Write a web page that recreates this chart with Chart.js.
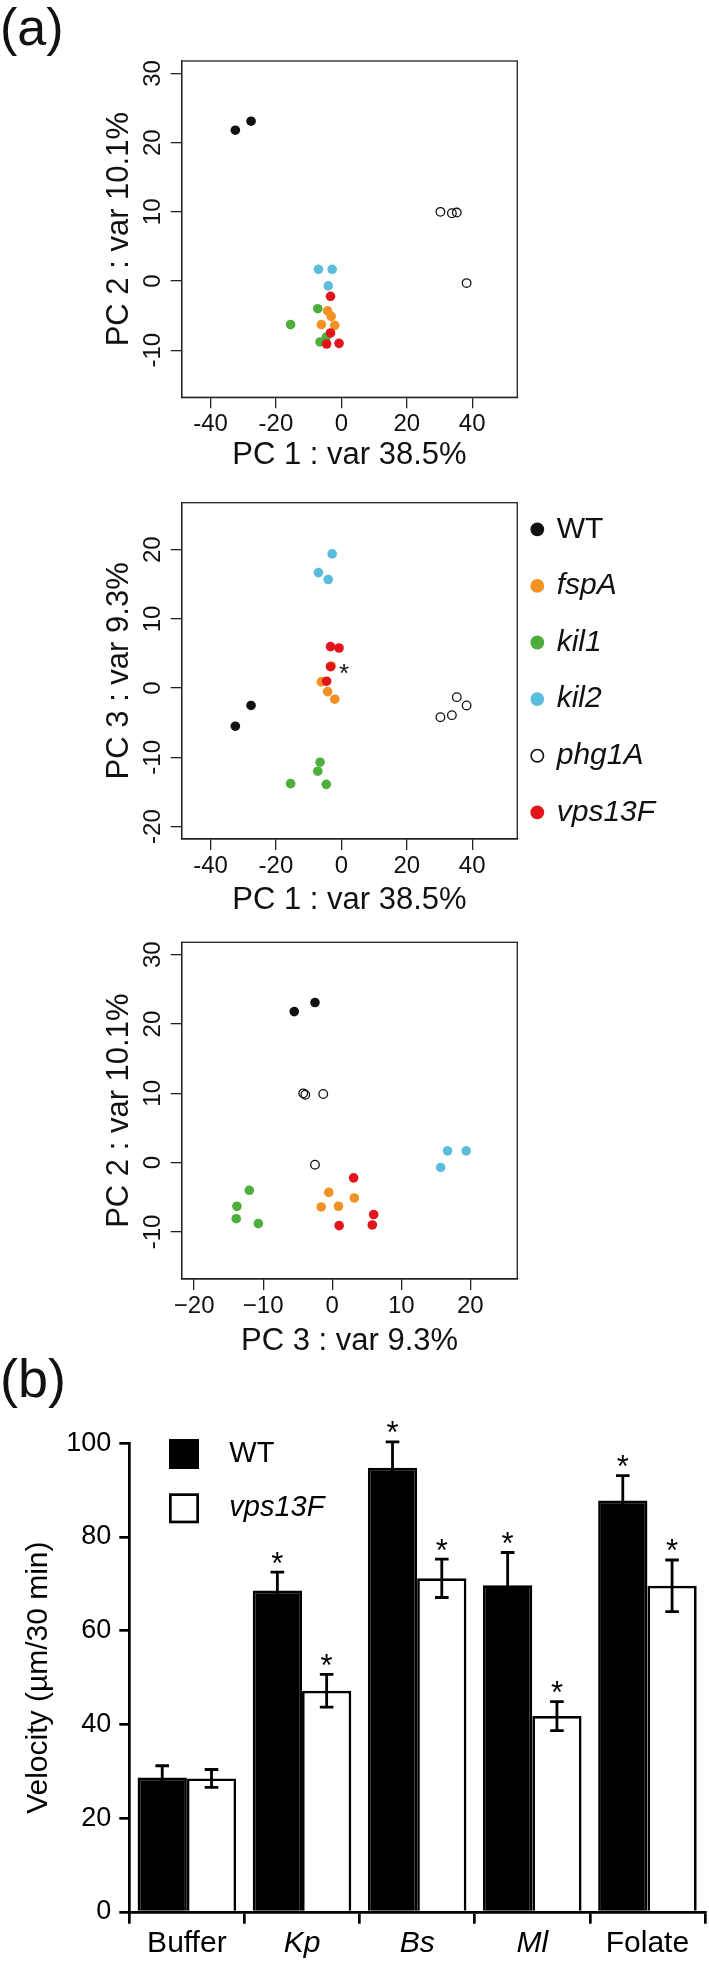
<!DOCTYPE html>
<html>
<head>
<meta charset="utf-8">
<script src="https://cdn.jsdelivr.net/npm/chart.js@4.4.1/dist/chart.umd.min.js"></script>
<style>
  body { margin: 0; background: #fff; }
  #page { position: relative; width: 709px; height: 1963px; overflow: hidden; background: #fff;
          font-family: 'Liberation Sans', Arial, sans-serif; color: #111; }
  canvas { position: absolute; left: 0; }
  .tag { position: absolute; left: 0; line-height: 1; }
</style>
</head>
<body>
<div id="page">
  <canvas id="pca12" width="709" height="480" style="top:0px"></canvas>
  <canvas id="pca13" width="709" height="445" style="top:480px"></canvas>
  <canvas id="pca32" width="709" height="445" style="top:925px"></canvas>
  <canvas id="velocity" width="709" height="593" style="top:1370px"></canvas>
  <div class="tag" style="top:1px; font-size:52px">(a)</div>
  <div class="tag" style="top:1351px; font-size:54px">(b)</div>
</div>
<script>
// PCA scores, one entry per sample
var sampleGroup = ['WT','WT','fspA','fspA','fspA','fspA','kil1','kil1','kil1','kil1',
                   'kil2','kil2','kil2','phg1A','phg1A','phg1A','phg1A','vps13F','vps13F','vps13F','vps13F'];
var pc1 = [-32.4,-27.6, -4.2,-3.1,-6.1,-2.0, -7.2,-15.5,-6.5,-4.6, -7.0,-2.8,-4.0, 30.3,33.8,35.3,38.3, -3.3,-3.3,-4.5,-0.7];
var pc2 = [21.8,23.1, -4.3,-5.1,-6.3,-6.4, -4.0,-6.3,-8.8,-8.1, 1.7,1.7,-0.7, 10.0,9.8,9.9,-0.3, -2.2,-7.5,-9.1,-9.0];
var pc3 = [-5.5,-2.5, -0.5,3.2,0.9,-1.6, -12.0,-13.8,-10.7,-13.9, 16.7,19.4,15.7, -4.2,-3.9,-1.3,-2.5, 3.1,6.0,1.0,5.8];
var starredSample = 17;   // marked with * in the PC1/PC3 plot

var groups = ['WT','fspA','kil1','kil2','phg1A','vps13F'];
var groupColors = ['#111111','#F39223','#4DAE3B','#5BBDDC','#111111','#E3141C'];
var openGroups = ['phg1A'];

var pc1Ticks = [-40,-20,0,20,40];
var pc2Ticks = [-10,0,10,20,30];
var pc3Ticks = [-20,-10,0,10,20];
var pc1Lim = [-48.8, 53.8];
var pc2Lim = [-16.8, 31.8];
var pc3Lim = [-21.8, 26.8];

// chemotaxis velocities (mean, sem)
var stimuli = ['Buffer','Kp','Bs','Ml','Folate'];
var italicStimuli = [false,true,true,true,false];
var wtVelocity = [28.7,68.6,94.8,69.7,87.8];
var wtSem = [2.5,3.9,5.5,7.0,5.3];
var vpsVelocity = [28.5,47.2,71.2,41.8,69.6];
var vpsSem = [1.9,3.5,4.1,3.1,5.5];
var wtStar = [false,true,true,true,true];
var vpsStar = [false,true,true,true,true];
var velocityTicks = [0,20,40,60,80,100];

var FONT = "'Liberation Sans', Arial, sans-serif";
var INK = '#111';

function plain(v) { return String(v); }
function minus(v) { return v < 0 ? '\u2212' + (-v) : String(v); }

var boxPlugin = {
  id: 'box',
  afterDraw: function (chart) {
    var a = chart.chartArea, ctx = chart.ctx;
    ctx.save();
    ctx.strokeStyle = '#222';
    ctx.lineWidth = 1.3;
    ctx.strokeRect(a.left, a.top, a.right - a.left, a.bottom - a.top);
    ctx.restore();
  }
};

function pcaChart(id, xs, ys, xTicks, yTicks, xLim, yLim, xTitle, yTitle, geo, xFmt, plugins) {
  var canvas = document.getElementById(id);
  var H = canvas.height;
  var datasets = groups.map(function (g, gi) {
    var open = openGroups.indexOf(g) >= 0;
    var pts = [];
    sampleGroup.forEach(function (s, i) {
      if (s === g) pts.push({ x: xs[i], y: ys[i] });
    });
    return {
      label: g,
      data: pts,
      order: groups.length - gi,
      pointRadius: open ? 4.3 : 4.8,
      pointBackgroundColor: open ? 'rgba(0,0,0,0)' : groupColors[gi],
      pointBorderColor: groupColors[gi],
      pointBorderWidth: open ? 1.3 : 0
    };
  });
  var gridOpts = { drawOnChartArea: false, drawTicks: true, tickLength: 11, color: '#222', lineWidth: 1.3 };
  var borderOpts = { display: true, color: '#222', width: 1.3 };
  return new Chart(canvas, {
    type: 'scatter',
    data: { datasets: datasets },
    options: {
      responsive: false,
      animation: false,
      events: [],
      layout: { padding: { top: geo.top, left: 0, right: 709 - 517.3, bottom: 0 } },
      plugins: { legend: { display: false }, tooltip: { enabled: false } },
      scales: {
        x: {
          type: 'linear', min: xLim[0], max: xLim[1],
          afterBuildTicks: function (s) { s.ticks = xTicks.map(function (v) { return { value: v }; }); },
          afterFit: function (s) { s.height = H - geo.bottom; },
          ticks: { font: { family: FONT, size: 24 }, color: INK, padding: 2, maxRotation: 0, autoSkip: false, callback: xFmt },
          grid: gridOpts,
          border: borderOpts,
          title: { display: true, text: xTitle, color: INK, font: { family: FONT, size: 31 },
                   padding: { top: 0, bottom: H - geo.xTitle - 18.6 } }
        },
        y: {
          type: 'linear', min: yLim[0], max: yLim[1],
          afterBuildTicks: function (s) { s.ticks = yTicks.map(function (v) { return { value: v }; }); },
          afterFit: function (s) { s.width = 181.7; },
          ticks: { font: { family: FONT, size: 24 }, color: INK, padding: 0, minRotation: 90, maxRotation: 90,
                   crossAlign: 'center', autoSkip: false, callback: plain },
          grid: gridOpts,
          border: borderOpts,
          title: { display: true, text: yTitle, color: INK, font: { family: FONT, size: 31 },
                   padding: { top: 100.6, bottom: 0 } }
        }
      }
    },
    plugins: [boxPlugin].concat(plugins || [])
  });
}

var starPlugin = {
  id: 'sampleStar',
  afterDatasetsDraw: function (chart) {
    var ctx = chart.ctx;
    var px = chart.scales.x.getPixelForValue(pc1[starredSample]);
    var py = chart.scales.y.getPixelForValue(pc3[starredSample]);
    ctx.save();
    ctx.font = '26px ' + FONT;
    ctx.fillStyle = INK;
    ctx.textAlign = 'center';
    ctx.textBaseline = 'alphabetic';
    ctx.fillText('*', px + 13.6, py + 0.58 * 26);
    ctx.restore();
  }
};

var groupLegend = {
  id: 'groupLegend',
  afterDraw: function (chart) {
    var ctx = chart.ctx;
    ctx.save();
    chart.data.datasets.forEach(function (ds, i) {
      var y = 49.3 + i * 56.6;
      var open = openGroups.indexOf(ds.label) >= 0;
      ctx.beginPath();
      ctx.arc(537.3, y, open ? 6.2 : 6.9, 0, Math.PI * 2);
      if (open) {
        ctx.lineWidth = 1.6; ctx.strokeStyle = INK; ctx.stroke();
      } else {
        ctx.fillStyle = ds.pointBackgroundColor; ctx.fill();
      }
      ctx.fillStyle = INK;
      ctx.font = (ds.label === 'WT' ? '' : 'italic ') + '30px ' + FONT;
      ctx.textAlign = 'left';
      ctx.textBaseline = 'middle';
      ctx.fillText(ds.label, 556.7, y);
    });
    ctx.restore();
  }
};

pcaChart('pca12', pc1, pc2, pc1Ticks, pc2Ticks, pc1Lim, pc2Lim,
  'PC 1 : var 38.5%', 'PC 2 : var 10.1%', { top: 61, bottom: 397.3, xTitle: 455 }, plain);
pcaChart('pca13', pc1, pc3, pc1Ticks, pc3Ticks, pc1Lim, pc3Lim,
  'PC 1 : var 38.5%', 'PC 3 : var 9.3%', { top: 22.7, bottom: 359, xTitle: 420 }, plain, [starPlugin, groupLegend]);
pcaChart('pca32', pc3, pc2, pc3Ticks, pc2Ticks, pc3Lim, pc2Lim,
  'PC 3 : var 9.3%', 'PC 2 : var 10.1%', { top: 17.3, bottom: 354, xTitle: 416 }, minus);

// ---- (b) velocity bars ----
var errorBars = {
  id: 'errorBars',
  afterDatasetsDraw: function (chart) {
    var ctx = chart.ctx, y = chart.scales.y;
    chart.data.datasets.forEach(function (ds, di) {
      chart.getDatasetMeta(di).data.forEach(function (bar, i) {
        var hi = y.getPixelForValue(ds.data[i] + ds.sem[i]);
        var lo = y.getPixelForValue(ds.data[i] - ds.sem[i]);
        ctx.save();
        ctx.strokeStyle = '#000';
        ctx.lineWidth = 2.8;
        ctx.beginPath();
        ctx.moveTo(bar.x, hi); ctx.lineTo(bar.x, lo);
        ctx.moveTo(bar.x - 6.8, hi); ctx.lineTo(bar.x + 6.8, hi);
        ctx.moveTo(bar.x - 6.8, lo); ctx.lineTo(bar.x + 6.8, lo);
        ctx.stroke();
        if (ds.stars[i]) {
          ctx.fillStyle = '#000';
          ctx.font = '31px ' + FONT;
          ctx.textAlign = 'center';
          ctx.textBaseline = 'alphabetic';
          ctx.fillText('*', bar.x, hi - 16.5 + 0.58 * 31);
        }
        ctx.restore();
      });
    });
  }
};

var barLegend = {
  id: 'barLegend',
  afterDraw: function (chart) {
    var ctx = chart.ctx;
    ctx.save();
    chart.data.datasets.forEach(function (ds, i) {
      var cy = 84 + i * 54.3;
      ctx.fillStyle = ds.backgroundColor;
      ctx.fillRect(169, cy - 15, 30, 30);
      ctx.strokeStyle = '#000';
      ctx.lineWidth = 2.7;
      ctx.strokeRect(170.35, cy - 13.65, 27.3, 27.3);
      ctx.fillStyle = '#000';
      ctx.font = (i === 0 ? '' : 'italic ') + '29px ' + FONT;
      ctx.textAlign = 'left';
      ctx.textBaseline = 'middle';
      ctx.fillText(ds.label, 229.3, cy);
    });
    ctx.restore();
  }
};

new Chart(document.getElementById('velocity'), {
  type: 'bar',
  data: {
    labels: stimuli,
    datasets: [
      { label: 'WT', data: wtVelocity, sem: wtSem, stars: wtStar,
        backgroundColor: '#000', borderColor: '#000', borderWidth: 2.7,
        categoryPercentage: 0.856, barPercentage: 1.0 },
      { label: 'vps13F', data: vpsVelocity, sem: vpsSem, stars: vpsStar,
        backgroundColor: '#fff', borderColor: '#000', borderWidth: 2.7,
        categoryPercentage: 0.856, barPercentage: 1.0 }
    ]
  },
  options: {
    responsive: false,
    animation: false,
    events: [],
    layout: { padding: { top: 73.3, left: 0, right: 4, bottom: 0 } },
    plugins: { legend: { display: false }, tooltip: { enabled: false } },
    scales: {
      x: {
        afterFit: function (s) { s.height = 51; },
        ticks: {
          color: '#000', padding: 2.2, maxRotation: 0, autoSkip: false,
          font: function (c) { return { family: FONT, size: 30, style: italicStimuli[c.index] ? 'italic' : 'normal' }; }
        },
        grid: { offset: true, drawOnChartArea: false, drawTicks: true, tickLength: 11.7, color: '#000', lineWidth: 2.7 },
        border: { display: true, color: '#000', width: 2.7 }
      },
      y: {
        min: 0, max: 100,
        afterBuildTicks: function (s) { s.ticks = velocityTicks.map(function (v) { return { value: v }; }); },
        afterFit: function (s) { s.width = 129.3; },
        ticks: { font: { family: FONT, size: 27 }, color: '#000', padding: 8, autoSkip: false, callback: plain },
        grid: { drawOnChartArea: false, drawTicks: true, tickLength: 10, color: '#000', lineWidth: 2.7 },
        border: { display: true, color: '#000', width: 2.7 },
        title: { display: true, text: 'Velocity (\u00b5m/30 min)', color: '#000', font: { family: FONT, size: 30 },
                 padding: { top: 21.2, bottom: 0 } }
      }
    }
  },
  plugins: [errorBars, barLegend]
});
</script>
</body>
</html>
